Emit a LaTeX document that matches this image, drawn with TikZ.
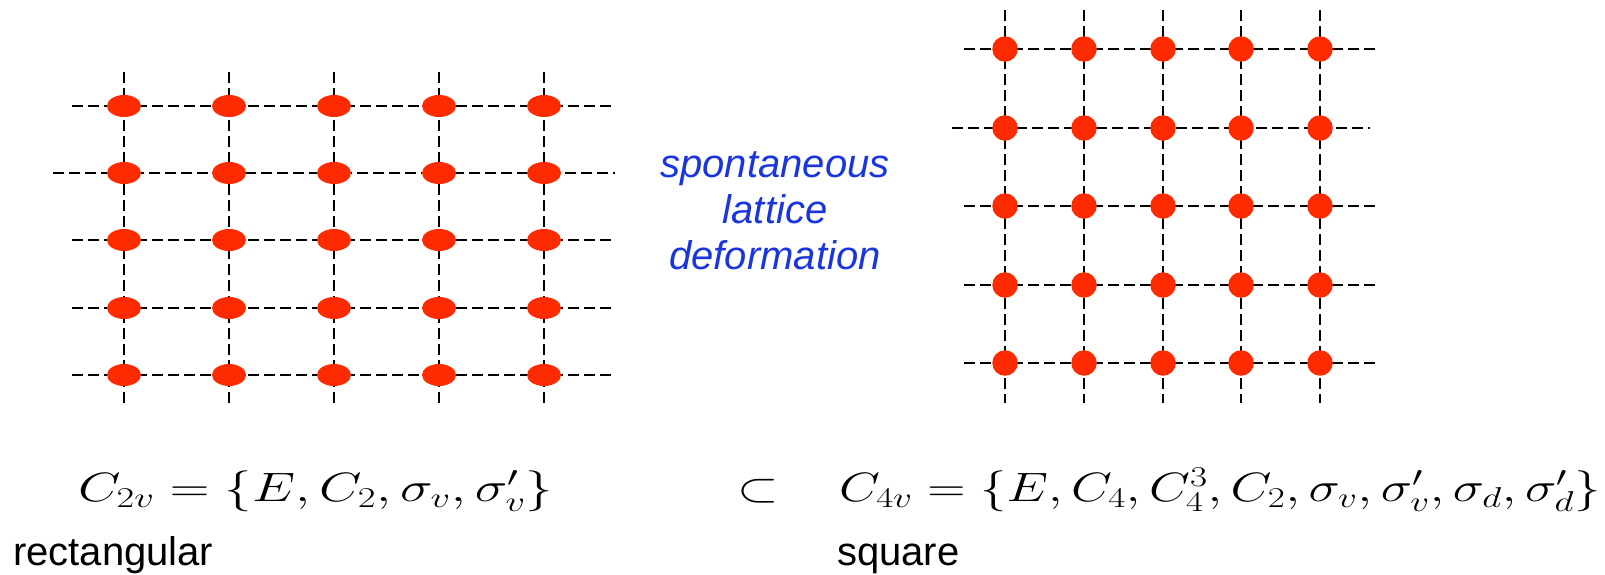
\RequirePackage{fix-cm}
\documentclass[tikz,border=0pt]{standalone}
\usepackage{fontspec}
\setsansfont{Liberation Sans}
\usetikzlibrary{shapes.geometric, backgrounds, calc}
\definecolor{ink}{HTML}{000000}
\definecolor{site}{HTML}{FF2B00}
\definecolor{shift}{HTML}{1A35DB}
\tikzset{
  ltline/.style   = {draw=ink, line width=1.7pt, dash pattern=on 11pt off 5pt},
  ltrect/.style   = {ellipse, fill=site, inner sep=0pt, minimum width=34pt, minimum height=22pt},
  ltsq/.style     = {circle, fill=site, inner sep=0pt, minimum size=25.5pt},
  ltnote/.style   = {font=\sffamily\itshape\fontsize{40}{46}\selectfont, text=shift, align=center, inner sep=0pt},
  ltgroup/.style  = {font=\fontsize{41}{49}\selectfont, text=ink, inner sep=0pt, anchor=base west},
  ltname/.style   = {font=\sffamily\fontsize{40}{48}\selectfont, text=ink, inner sep=0pt, anchor=base west},
}

\begin{document}
\begin{tikzpicture}[x=1pt, y=-1pt]
\useasboundingbox (0,0) rectangle (1605,574);

% rectangular lattice
\foreach \i/\x in {1/124,2/229,3/334,4/439,5/544}{
  \foreach \j/\y in {1/106,2/173,3/240,4/308,5/375}{
    \node[ltrect] (R\i\j) at (\x,\y) {};
  }
}
% square lattice
\foreach \i/\x in {1/1005,2/1084,3/1163,4/1241,5/1320}{
  \foreach \j/\y in {1/49,2/128,3/206,4/285,5/363}{
    \node[ltsq] (S\i\j) at (\x,\y) {};
  }
}

\begin{scope}[on background layer]
  \foreach \i in {1,...,5}{
    \draw[ltline] ($(R\i1.center)+(0,-34)$) -- ($(R\i5.center)+(0,31)$);
    \draw[ltline] ($(S\i1.center)+(0,-39)$) -- ($(S\i5.center)+(0,40)$);
  }
  \foreach \j/\l in {1/52,2/71,3/52,4/52,5/52}{
    \draw[ltline] ($(R1\j.center)+(-\l,0)$) -- ($(R5\j.center)+(71,0)$);
  }
  \foreach \j/\l/\r in {1/41/55,2/53/50,3/41/55,4/41/55,5/41/55}{
    \draw[ltline] ($(S1\j.center)+(-\l,0)$) -- ($(S5\j.center)+(\r,0)$);
  }
\end{scope}

\node[ltnote] (deform) at (775,211) {spontaneous\\lattice\\deformation};

\node[ltgroup] (C2v) at (78,501)
  {\scalebox{1.34}[1]{$C_{2v}=\{E,C_2,\sigma_v,\sigma'_v\}$}};
\node[ltgroup] (incl) at (737,501) {\scalebox{1.3}[1]{$\subset$}};
\node[ltgroup] (C4v) at (839,501)
  {\scalebox{1.29}[1]{$C_{4v}=\{E,C_4,C_4^3,C_2,\sigma_v,\sigma'_v,\sigma_d,\sigma'_d\}$}};

\node[ltname] (rect) at (13,565) {rectangular};
\node[ltname] (square) at (837,565) {square};
\end{tikzpicture}
\end{document}
